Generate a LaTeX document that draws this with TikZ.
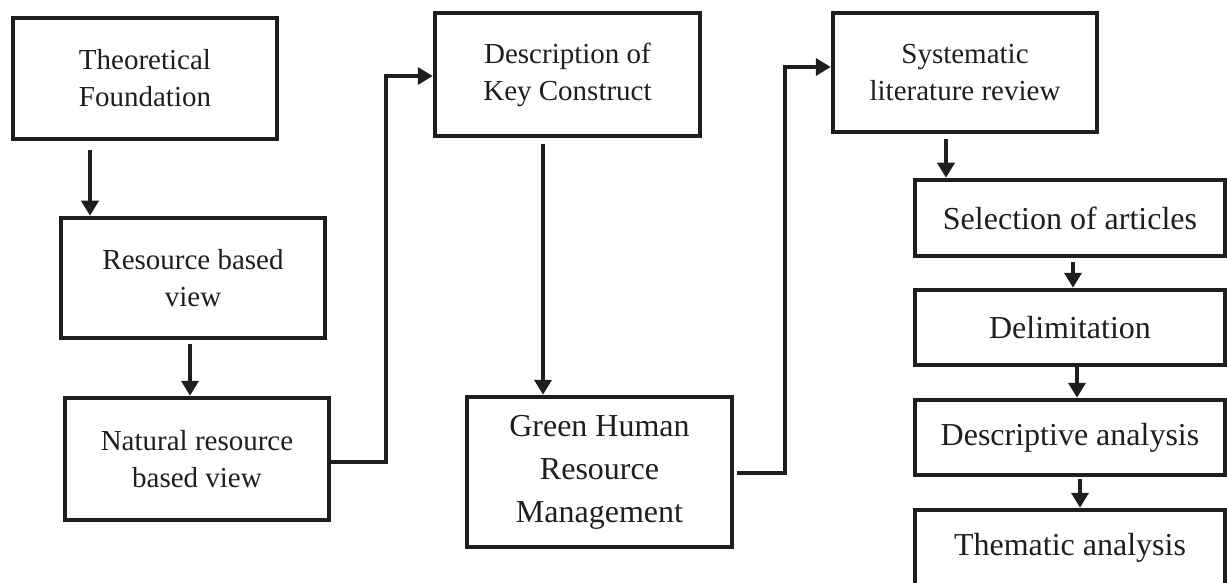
\documentclass[tikz,border=0pt]{standalone}
\usepackage{fontspec}
\setmainfont{Liberation Serif}
\usetikzlibrary{arrows.meta}
\definecolor{ink}{HTML}{1E1E1E}
\tikzset{
  box/.style={draw=ink, line width=4.5pt, inner sep=0pt, align=center, text=ink},
  smallfont/.style={font=\fontsize{29}{37}\selectfont},
  bigfont/.style={font=\fontsize{32}{43}\selectfont},
  arr/.style={draw=ink, line width=4.5pt, -{Triangle[width=17pt,length=15pt]}},
}
\begin{document}
\begin{tikzpicture}[x=1pt,y=-1pt]
\useasboundingbox (0,0) rectangle (1227,583);
\clip (0,0) rectangle (1227,583);
% boxes
\node[box, smallfont, minimum width=264pt, minimum height=121pt] (tf) at (145,78.5) {Theoretical\\Foundation};
\node[box, smallfont, minimum width=264pt, minimum height=120pt] (rbv) at (193,278) {Resource based\\view};
\node[box, smallfont, minimum width=264pt, minimum height=122pt] (nrbv) at (197,459) {Natural resource\\based view};
\node[box, smallfont, minimum width=265pt, minimum height=123pt] (desc) at (567.5,74.5) {Description of\\Key Construct};
\node[box, bigfont, minimum width=265pt, minimum height=150pt] (ghrm) at (599.5,472) {Green Human\\Resource\\Management};
\node[box, smallfont, minimum width=264pt, minimum height=119pt] (slr) at (965,72.5) {Systematic\\literature review};
\node[box, bigfont, minimum width=310pt, minimum height=76pt] (sel) at (1070,218) {Selection of articles};
\node[box, bigfont, minimum width=310pt, minimum height=75pt] (del) at (1070,327.5) {Delimitation};
\node[box, bigfont, minimum width=310pt, minimum height=75pt] (dsc) at (1070,437.5) {Descriptive analysis};
\node[box, bigfont, minimum width=310pt, minimum height=76pt] (thm) at (1070,548) {Thematic analysis};
% connector bends
\coordinate (b1) at (386,462);
\coordinate (b2) at (386,76);
\coordinate (b3) at (785,473);
\coordinate (b4) at (785,67);
% connectors
\draw[arr] ([yshift=-9pt]tf.south -| 90,0) -- (rbv.north -| 90,0);
\draw[arr] ([yshift=-4pt]rbv.south -| 190,0) -- (nrbv.north -| 190,0);
\draw[arr, line cap=rect] (nrbv.east |- b1) -- (b1) -- (b2) -- (desc.west |- b2);
\draw[arr] ([yshift=-6pt]desc.south -| 543,0) -- (ghrm.north -| 543,0);
\draw[arr, line cap=rect] ([xshift=5pt]ghrm.east |- b3) -- (b3) -- (b4) -- (slr.west |- b4);
\draw[arr] ([yshift=-5pt]slr.south -| 946,0) -- (sel.north -| 946,0);
\draw[arr] ([yshift=-4pt]sel.south -| 1073,0) -- (del.north -| 1073,0);
\draw[arr] (del.south -| 1077,0) -- (dsc.north -| 1077,0);
\draw[arr] ([yshift=-2pt]dsc.south -| 1080,0) -- (thm.north -| 1080,0);
\end{tikzpicture}
\end{document}
